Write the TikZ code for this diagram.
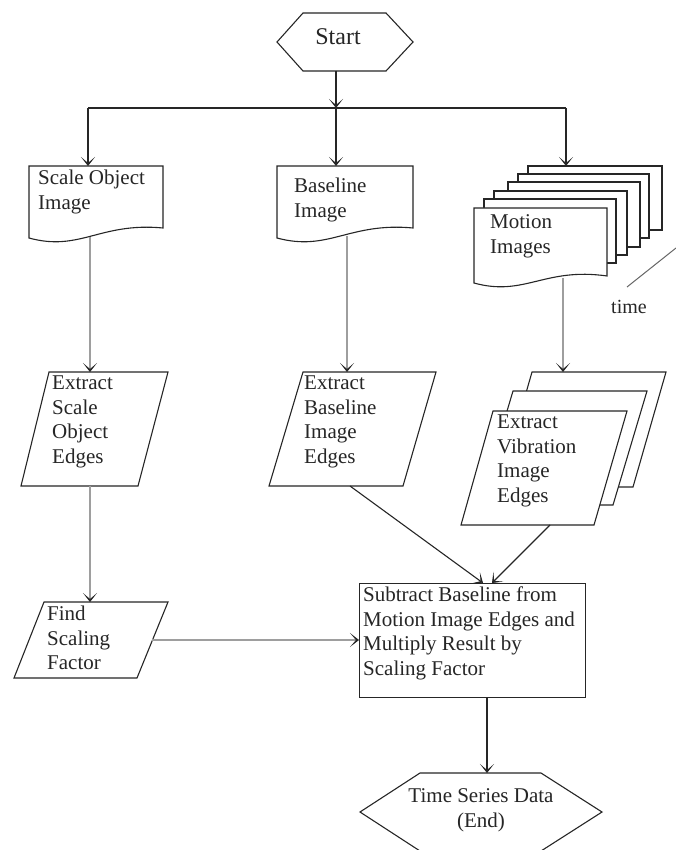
\documentclass[tikz,border=0pt]{standalone}
\usepackage{fontspec}
\setmainfont{Liberation Serif}
\newfontfamily\tnr{Liberation Serif}
\usetikzlibrary{arrows.meta}
\newcommand\docshape[5]{\draw[shp] (#1,#3) -- (#2,#3) -- (#2,#5) .. controls ({#1+0.53*(#2-#1)},{#4-16}) and ({#1+0.38*(#2-#1)},{#4+14}) .. (#1,#4) -- cycle;}
\begin{document}
\begin{tikzpicture}[x=1pt,y=-1pt,
  shp/.style={draw=black!85,line width=1.1pt,fill=white},
  txt/.style={inner sep=0pt,anchor=north west,align=left,font=\tnr\fontsize{21}{24.6}\selectfont,text=black!85},
  tip/.style={-{Stealth[length=9pt,width=14pt,inset=6pt,color=black!85]}},
  darkline/.style={draw=black!85,line width=1.1pt,tip},
  greyline/.style={draw=black!38,line width=1.6pt,tip},
  plainline/.style={draw=black!85,line width=1.1pt},
]
\useasboundingbox (0,0) rectangle (676,850);

% ---- Start
\draw[shp] (277,42) -- (303,13) -- (386,13) -- (413,42) -- (386,71) -- (303,71) -- cycle;
\node[inner sep=0pt,anchor=base,font=\tnr\fontsize{24}{28}\selectfont,text=black!85] (start) at (338,45) {Start};

% ---- documents
\docshape{29}{163}{166}{238}{228}
\node[txt] (scaleimg) at (38,169.8) {Scale Object\\Image};
\docshape{277}{413}{166}{238}{228}
\node[txt] (baseimg) at (294,177.8) {Baseline\\Image};

% motion images stack
\draw[shp] (528,166) rectangle (662,230);
\draw[shp] (518,174) rectangle (649,238);
\draw[shp] (508,182) rectangle (640,247);
\draw[shp] (494,191) rectangle (627,255);
\draw[shp] (484,199) rectangle (616,263);
\docshape{474}{607}{208}{283}{276}
\node[txt] (motionimg) at (490,214.8) {Motion\\Images};

% time indicator
\coordinate (timeA) at (627,287);
\coordinate (timeB) at (676,248);
\draw[draw=black!60,line width=1pt] (timeA) -- (timeB);
\node[inner sep=0pt,anchor=base west,font=\tnr\fontsize{20}{24}\selectfont,text=black!85] (timelbl) at (611,313) {time};

% ---- parallelograms
\draw[shp] (49,372) -- (168,372) -- (138,486) -- (21,486) -- cycle;
\node[txt] (exscale) at (52,375.8) {Extract\\Scale\\Object\\Edges};
\draw[shp] (303,372) -- (436,372) -- (403,486) -- (269,486) -- cycle;
\node[txt] (exbase) at (304,375.8) {Extract\\Baseline\\Image\\Edges};
\draw[shp] (532,372) -- (666,372) -- (633,487) -- (499,487) -- cycle;
\draw[shp] (513,391) -- (647,391) -- (613,505) -- (479,505) -- cycle;
\draw[shp] (493,411) -- (627,411) -- (594,525) -- (461,525) -- cycle;
\node[txt] (exvib) at (497,414.8) {Extract\\Vibration\\Image\\Edges};
\draw[shp] (44,602) -- (168,602) -- (137,678) -- (14,678) -- cycle;
\node[txt] (findsf) at (47,605.8) {Find\\Scaling\\Factor};

% ---- process box
\node[shp,minimum width=226pt,minimum height=114pt,anchor=north west,inner sep=0pt] (sub) at (359,583) {};
\node[txt] (subtxt) at (363,586.8) {Subtract Baseline from\\Motion Image Edges and\\Multiply Result by\\Scaling Factor};

% ---- end
\draw[shp] (360,812) -- (420,773) -- (541,773) -- (602,812) -- (541,851) -- (420,851) -- cycle;
\node[inner sep=0pt,anchor=north,align=center,font=\tnr\fontsize{21}{24.6}\selectfont,text=black!85] (endtxt) at (481,788.8) {Time Series Data\\(End)};

% ---- connection points
\coordinate (startB) at (336,71);
\coordinate (split) at (336,108);
\coordinate (splitL) at (88,108);
\coordinate (splitR) at (566,108);
\coordinate (scaleT) at (88,166);
\coordinate (baseT) at (336,166);
\coordinate (motionT) at (566,166);
\coordinate (scaleB) at (90,237);
\coordinate (baseB) at (347,236);
\coordinate (motionB) at (563,278);
\coordinate (exscaleT) at (90,372);
\coordinate (exbaseT) at (347,372);
\coordinate (exvibT) at (563,372);
\coordinate (exscaleB) at (90,486);
\coordinate (findT) at (90,602);
\coordinate (findR) at (152,640);
\coordinate (subL) at (359,640);
\coordinate (exbaseB) at (350,486);
\coordinate (subT1) at (483,583);
\coordinate (exvibB) at (550,525);
\coordinate (subT2) at (492,583);
\coordinate (subB) at (487,697);
\coordinate (endT) at (487,773);

% ---- connectors
\draw[darkline] (startB) -- (split);
\draw[plainline] (splitL) -- (splitR);
\draw[darkline] (splitL) -- (scaleT);
\draw[darkline] (split) -- (baseT);
\draw[darkline] (splitR) -- (motionT);
\draw[greyline] (scaleB) -- (exscaleT);
\draw[greyline] (baseB) -- (exbaseT);
\draw[greyline] (motionB) -- (exvibT);
\draw[greyline] (exscaleB) -- (findT);
\draw[greyline] (findR) -- (subL);
\draw[darkline] (exbaseB) -- (subT1);
\draw[darkline] (exvibB) -- (subT2);
\draw[darkline] (subB) -- (endT);
\end{tikzpicture}
\end{document}
